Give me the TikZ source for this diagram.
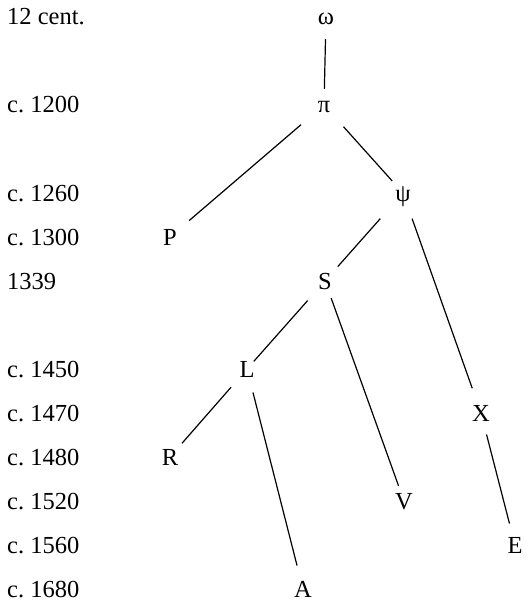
\documentclass[tikz,border=0pt]{standalone}
\usepackage{fontspec}
\setmainfont{Liberation Serif}
\frenchspacing
\begin{document}
\begin{tikzpicture}[x=1pt,y=-1pt,
  font=\fontsize{24.5}{29}\selectfont\frenchspacing,
  ms/.style={circle, inner sep=0pt, minimum size=32pt, text height=16pt, text depth=0pt},
  datelbl/.style={anchor=base west, inner sep=0pt},
  edge/.style={line width=1.2pt, black}]
\useasboundingbox (0,0) rectangle (530,604);
% date column
\node[datelbl] (d1)  at (7,25)  {12 cent.};
\node[datelbl] (d2)  at (7,113) {c. 1200};
\node[datelbl] (d3)  at (7,201) {c. 1260};
\node[datelbl] (d4)  at (7,245) {c. 1300};
\node[datelbl] (d5)  at (7,289) {1339};
\node[datelbl] (d6)  at (7,377) {c. 1450};
\node[datelbl] (d7)  at (7,421) {c. 1470};
\node[datelbl] (d8)  at (7,465) {c. 1480};
\node[datelbl] (d9)  at (7,509) {c. 1520};
\node[datelbl] (d10) at (7,553) {c. 1560};
\node[datelbl] (d11) at (7,597) {c. 1680};
% witnesses
\node[ms] (w)   at (326,17)  {ω};
\node[ms] (pi)  at (324,105) {π};
\node[ms] (psi) at (403,193) {ψ};
\node[ms] (P)   at (170,237) {P};
\node[ms] (S)   at (325,281) {S};
\node[ms] (L)   at (247,369) {L};
\node[ms] (X)   at (481,413) {X};
\node[ms] (R)   at (170,457) {R};
\node[ms] (V)   at (404,501) {V};
\node[ms] (E)   at (515,545) {E};
\node[ms] (A)   at (303,589) {A};
% connectors
\draw[edge, shorten <=6pt] (w) -- (pi);
\draw[edge, shorten <=14pt, shorten >=9pt] (pi) -- (P);
\draw[edge, shorten <=13pt] (pi) -- (psi);
\draw[edge, shorten <=18pt, shorten >=3pt] (psi) -- (S);
\draw[edge, shorten <=11pt, shorten >=10pt] (psi) -- (X);
\draw[edge, shorten <=10pt, shorten >=-6pt] (S) -- (L);
\draw[edge, shorten <=2pt] (S) -- (V);
\draw[edge, shorten <=8pt, shorten >=2pt] (L) -- (R);
\draw[edge, shorten <=8pt, shorten >=8pt] (L) -- (A);
\draw[edge, shorten <=6pt, shorten >=6pt] (X) -- (E);
\end{tikzpicture}
\end{document}
